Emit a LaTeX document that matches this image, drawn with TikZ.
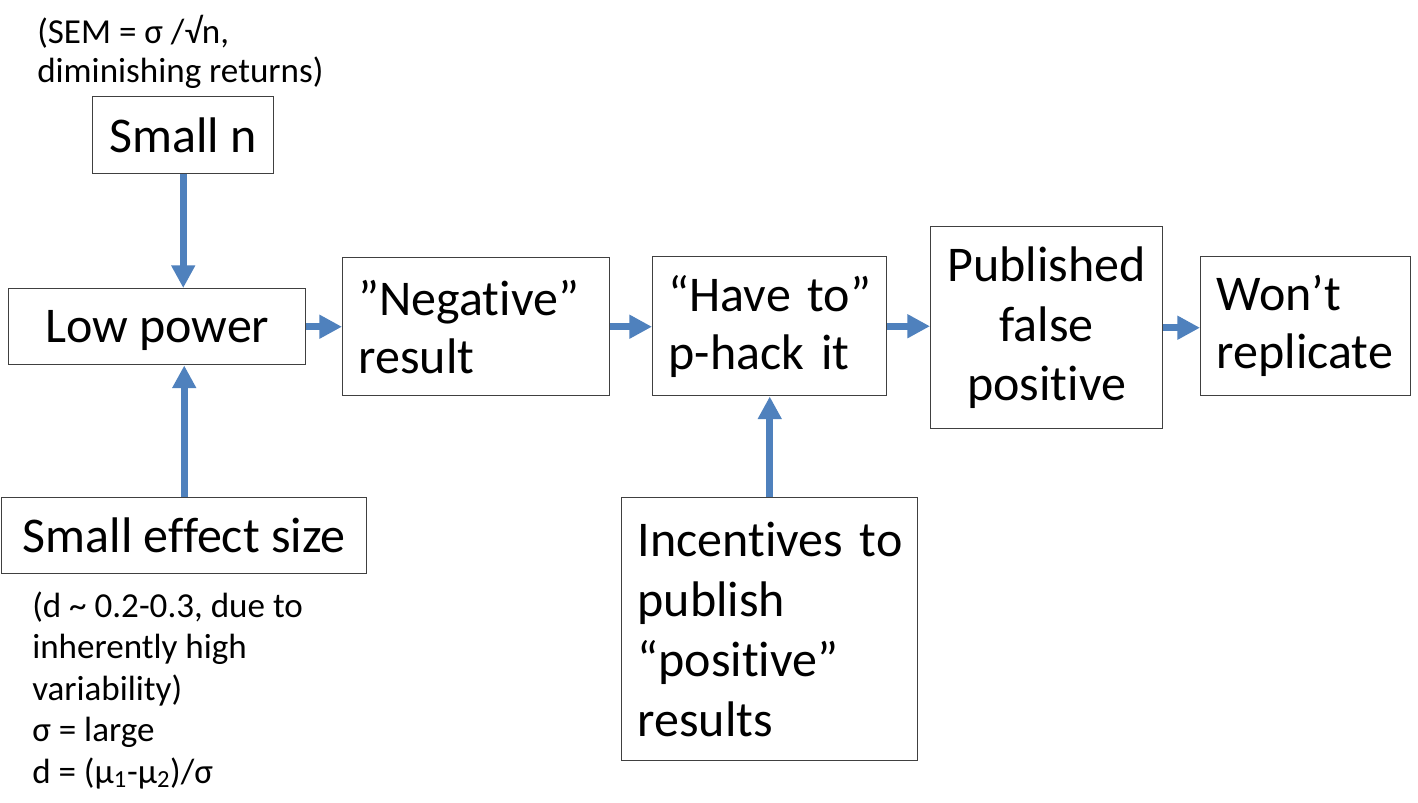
\documentclass[tikz,border=0pt]{standalone}
\usepackage{fontspec}
\setmainfont{Carlito}[Ligatures={NoCommon}]
\usetikzlibrary{arrows.meta}
\definecolor{arrblue}{HTML}{4F81BD}
\definecolor{boxgray}{HTML}{404040}
\begin{document}
\begin{tikzpicture}[x=0.75pt,y=-0.75pt,
  box/.style={draw=boxgray, line width=1.1pt, inner ysep=0pt, inner xsep=12pt, anchor=north west,
    font=\fontsize{37.5}{43.5}\selectfont},
  cbox/.style={box, align=center},
  lbox/.style={box, align=left},
  arr/.style={draw=arrblue, line width=5.3pt, -{Triangle[length=17pt,width=17pt]}},
  note/.style={align=left, inner sep=0pt, anchor=base west}]
\useasboundingbox[fill=white] (0,0) rectangle (1418,803);

\node[cbox, minimum width=135.75pt, minimum height=57.75pt] (smalln) at (92,96) {Small n};
\node[cbox, minimum width=222.75pt, minimum height=57pt, text depth=0pt] (lowpower) at (8,288) {Low power};
\node[cbox, minimum width=273.75pt, minimum height=57pt] (effect) at (1,497) {Small effect size};
\node[lbox, text width=176.25pt, minimum height=103.5pt] (negative) at (342,257) {”Negative”\\result};
\node[lbox, text width=151.5pt, minimum height=104.25pt] (haveto) at (652,256) {\mbox{“Have to”}\\\mbox{p-hack it}};
\node[cbox, text width=150pt, minimum height=151.5pt, font=\fontsize{37.5}{44.5}\selectfont] (published) at (930,226) {Published\\false\\positive};
\node[lbox, text width=133.5pt, minimum height=104.25pt] (wont) at (1200,256) {Won’t\\replicate};
\node[lbox, text width=198pt, minimum height=197.25pt, font=\fontsize{37.5}{45}\selectfont] (incent) at (621,497) {\mbox{Incentives to}\\publish\\“positive”\\results};

\node[note, font=\fontsize{26.3}{29.25}\selectfont] (semnote) at (37,82) {(SEM = σ /√n,\\diminishing returns)};
\node[note, font=\fontsize{26.3}{31.1}\selectfont] (dnote) at (32,783) {(d \textasciitilde{} 0.2-0.3, due to\\inherently high\\variability)\\σ = large\\d = (μ\textsubscript{1}-μ\textsubscript{2})/σ};

\draw[arr] (smalln.south) -- (smalln.south |- lowpower.north);
\draw[arr] (effect.north) -- (effect.north |- lowpower.south);
\draw[arr] (lowpower.east) -- (lowpower.east -| negative.west);
\draw[arr] (negative.east) -- (negative.east -| haveto.west);
\draw[arr] (haveto.east) -- (haveto.east -| published.west);
\draw[arr] (published.east) -- (published.east -| wont.west);
\draw[arr] (incent.north) -- (haveto.south);
\end{tikzpicture}
\end{document}
